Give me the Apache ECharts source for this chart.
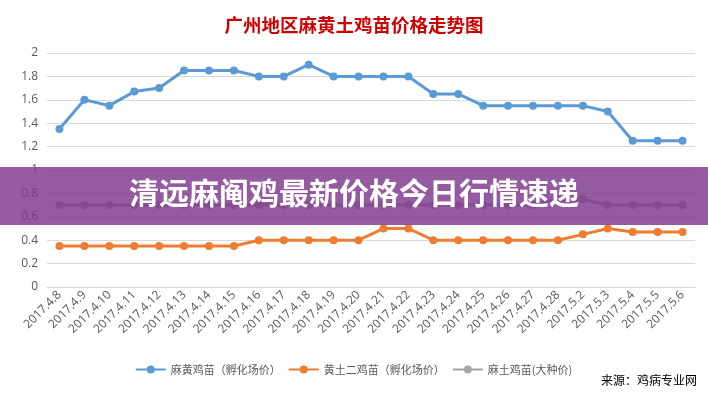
<!DOCTYPE html>
<html>
<head>
<meta charset="utf-8">
<script src="https://cdn.jsdelivr.net/npm/echarts@6/dist/echarts.min.js"></script>
<style>html,body{margin:0;padding:0;background:#fff;}#c{width:708px;height:393px;}</style>
</head>
<body>
<div id="c"></div>
<script>
const categories = ['2017.4.8','2017.4.9','2017.4.10','2017.4.11','2017.4.12','2017.4.13','2017.4.14','2017.4.15','2017.4.16','2017.4.17','2017.4.18','2017.4.19','2017.4.20','2017.4.21','2017.4.22','2017.4.23','2017.4.24','2017.4.25','2017.4.26','2017.4.27','2017.4.28','2017.5.2','2017.5.3','2017.5.4','2017.5.5','2017.5.6'];
const seriesNames = ['麻黄鸡苗（孵化场价）','黄土二鸡苗（孵化场价）','麻土鸡苗(大种价)'];
const mahuang = [1.35,1.6,1.55,1.67,1.7,1.85,1.85,1.85,1.8,1.8,1.9,1.8,1.8,1.8,1.8,1.65,1.65,1.55,1.55,1.55,1.55,1.55,1.5,1.25,1.25,1.25];
const huangtu = [0.35,0.35,0.35,0.35,0.35,0.35,0.35,0.35,0.4,0.4,0.4,0.4,0.4,0.5,0.5,0.4,0.4,0.4,0.4,0.4,0.4,0.45,0.5,0.47,0.47,0.47];
const matu = [0.7,0.7,0.7,0.7,0.7,0.7,0.7,0.7,0.7,0.7,0.7,0.7,0.7,0.7,0.7,0.7,0.7,0.7,0.7,0.7,0.75,0.75,0.7,0.7,0.7,0.7];
const titleText = '广州地区麻黄土鸡苗价格走势图';
const bannerText = '清远麻阄鸡最新价格今日行情速递';
const sourceText = '来源：鸡病专业网';
const colors = ['#5b9bd5','#ed7d31','#a5a5a5'];

const chart = echarts.init(document.getElementById('c'));
const mk = (name, data, color) => ({
  name, type:'line', data, symbol:'circle', symbolSize:8,
  lineStyle:{width:3,color}, itemStyle:{color}, z:2
});
chart.setOption({
  animation:false,
  title:{text:titleText,left:'center',top:11,
    textStyle:{color:'#d00000',fontSize:18.5,fontWeight:'bold',fontFamily:'Noto Sans CJK SC'}},
  grid:{left:47,right:13,top:53,bottom:106},
  legend:{bottom:13,left:'center',itemWidth:30,itemHeight:8,itemGap:8,
    textStyle:{color:'#595959',fontSize:11,fontFamily:'Noto Sans CJK SC'},
    data:seriesNames.map(n=>({name:n,icon:'path://M0,4 L30,4 L30,6 L0,6 Z M15,1 A4,4 0 1,1 14.99,1 Z'}))},
  xAxis:{type:'category',data:categories,boundaryGap:true,
    axisLine:{lineStyle:{color:'#d9d9d9'}},axisTick:{show:false},
    axisLabel:{rotate:45,color:'#595959',fontSize:12,interval:0,margin:6,fontFamily:'Open Sans'}},
  yAxis:{type:'value',min:0,max:2,interval:0.2,
    axisLine:{show:false},axisTick:{show:false},
    splitLine:{lineStyle:{color:'#d9d9d9'}},
    axisLabel:{color:'#595959',fontSize:12,margin:9,fontFamily:'Open Sans',
      formatter:v=>String(Math.round(v*10)/10)}},
  series:[mk(seriesNames[0],mahuang,colors[0]),mk(seriesNames[1],huangtu,colors[1]),mk(seriesNames[2],matu,colors[2])],
  graphic:[
    {type:'rect',left:0,top:167,shape:{width:708,height:58},z:100,
      style:{fill:'rgba(125,55,140,0.82)'}},
    {type:'text',left:'center',top:178,z:101,
      style:{text:bannerText,fill:'#ffffff',fontSize:30,fontWeight:'bold',fontFamily:'Noto Sans CJK SC'}},
    {type:'text',right:11,top:374,z:101,
      style:{text:sourceText,fill:'#000000',fontSize:12,fontFamily:'Noto Sans CJK SC'}}
  ]
});
</script>
</body>
</html>
